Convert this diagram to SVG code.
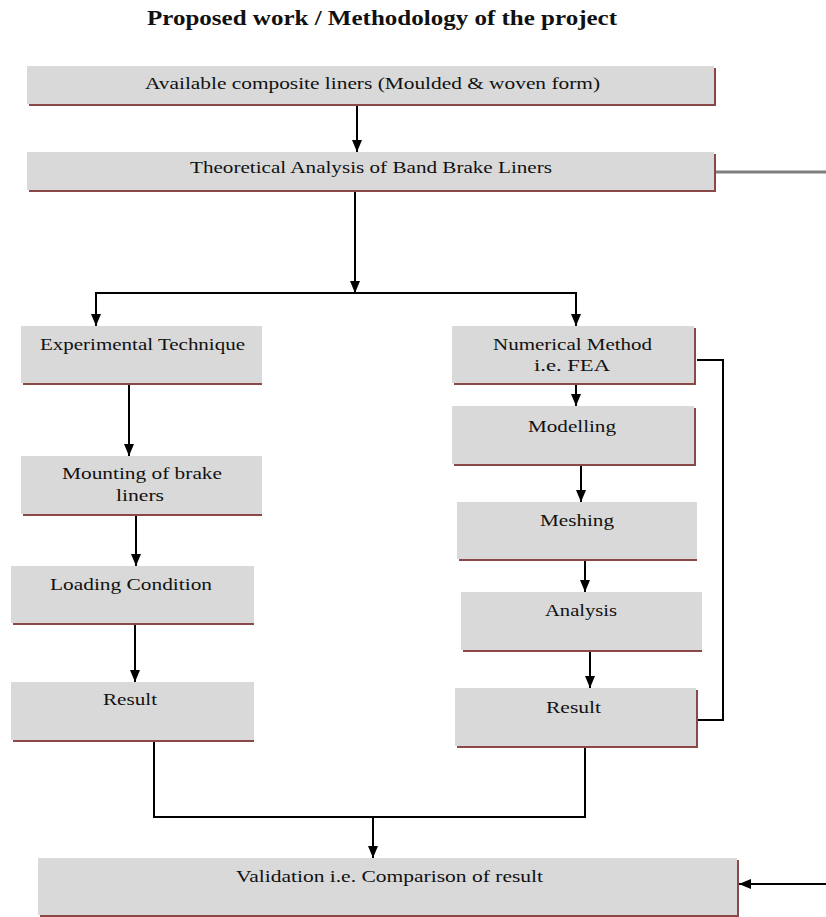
<svg xmlns="http://www.w3.org/2000/svg" width="826" height="917" viewBox="0 0 826 917">
<defs>
<marker id="ah" markerUnits="userSpaceOnUse" markerWidth="12" markerHeight="10" viewBox="0 0 12 10" refX="12" refY="5" orient="auto">
<path d="M0,0 L12,5 L0,10 Z" fill="#000"/>
</marker>
<style>
.box{fill:#d9d9d9}
.sh{fill:#8a4848}
.t{font-family:"Liberation Serif","Times New Roman",serif;font-size:16px;fill:#111;text-anchor:start}
.title{font-family:"Liberation Serif","Times New Roman",serif;font-size:21px;font-weight:bold;fill:#111}
.c{fill:none;stroke:#000;stroke-width:2}
.g{fill:none;stroke:#7f7f7f;stroke-width:3}
</style>
</defs>
<rect width="826" height="917" fill="#fff"/>
<text class="title" x="147" y="25" textLength="470" lengthAdjust="spacingAndGlyphs">Proposed work / Methodology of the project</text>

<g id="connectors">
<line class="c" x1="357" y1="105" x2="357" y2="152" marker-end="url(#ah)"/>
<line class="c" x1="355" y1="191" x2="355" y2="293" marker-end="url(#ah)"/>
<polyline class="c" points="96,310 96,293 576,293 576,310"/>
<line class="c" x1="96" y1="300" x2="96" y2="326" marker-end="url(#ah)"/>
<line class="c" x1="576" y1="300" x2="576" y2="326" marker-end="url(#ah)"/>
<line class="c" x1="129" y1="384" x2="129" y2="456" marker-end="url(#ah)"/>
<line class="c" x1="136" y1="515" x2="136" y2="566" marker-end="url(#ah)"/>
<line class="c" x1="135" y1="624" x2="135" y2="682" marker-end="url(#ah)"/>
<line class="c" x1="576" y1="384" x2="576" y2="406" marker-end="url(#ah)"/>
<line class="c" x1="581" y1="465" x2="581" y2="502" marker-end="url(#ah)"/>
<line class="c" x1="585" y1="560" x2="585" y2="592" marker-end="url(#ah)"/>
<line class="c" x1="590" y1="651" x2="590" y2="688" marker-end="url(#ah)"/>
<polyline class="c" points="697,360 723,360 723,720 697,720"/>
<polyline class="c" points="154,741 154,817 585,817 585,747"/>
<line class="c" x1="373" y1="817" x2="373" y2="858" marker-end="url(#ah)"/>
<line class="c" x1="826" y1="884" x2="739" y2="884" marker-end="url(#ah)"/>
<line class="g" x1="716" y1="172" x2="826" y2="172"/>
</g>

<g id="n-available">
<rect class="sh" x="29" y="68" width="687" height="38"/>
<rect class="box" x="27" y="66" width="687" height="38"/>
<text class="t" x="145" y="89" textLength="455" lengthAdjust="spacingAndGlyphs">Available composite liners (Moulded &amp; woven form)</text>
</g>

<g id="n-theoretical">
<rect class="sh" x="29" y="154" width="687" height="38"/>
<rect class="box" x="27" y="152" width="687" height="38"/>
<text class="t" x="190" y="173" textLength="362" lengthAdjust="spacingAndGlyphs">Theoretical  Analysis of Band Brake Liners</text>
</g>

<g id="n-experimental">
<rect class="sh" x="23" y="328" width="239" height="57"/>
<rect class="box" x="21" y="326" width="241" height="57"/>
<text class="t" x="40" y="350" textLength="205" lengthAdjust="spacingAndGlyphs">Experimental  Technique</text>
</g>

<g id="n-mounting">
<rect class="sh" x="23" y="458" width="239" height="58"/>
<rect class="box" x="21" y="456" width="241" height="58"/>
<text class="t" x="62" y="479" textLength="160" lengthAdjust="spacingAndGlyphs">Mounting of brake</text>
<text class="t" x="116" y="501" textLength="48" lengthAdjust="spacingAndGlyphs">liners</text>
</g>

<g id="n-loading">
<rect class="sh" x="13" y="568" width="241" height="57"/>
<rect class="box" x="11" y="566" width="243" height="57"/>
<text class="t" x="50" y="590" textLength="162" lengthAdjust="spacingAndGlyphs">Loading Condition</text>
</g>

<g id="n-result-left">
<rect class="sh" x="13" y="684" width="241" height="58"/>
<rect class="box" x="11" y="682" width="243" height="58"/>
<text class="t" x="103" y="705" textLength="54" lengthAdjust="spacingAndGlyphs">Result</text>
</g>

<g id="n-numerical">
<rect class="sh" x="454" y="328" width="242" height="57"/>
<rect class="box" x="452" y="326" width="242" height="57"/>
<text class="t" x="493" y="350" textLength="159" lengthAdjust="spacingAndGlyphs">Numerical Method</text>
<text class="t" x="534" y="371" textLength="76" lengthAdjust="spacingAndGlyphs">i.e. FEA</text>
</g>

<g id="n-modelling">
<rect class="sh" x="454" y="408" width="242" height="58"/>
<rect class="box" x="452" y="406" width="242" height="58"/>
<text class="t" x="528" y="432" textLength="88" lengthAdjust="spacingAndGlyphs">Modelling</text>
</g>

<g id="n-meshing">
<rect class="sh" x="459" y="504" width="238" height="57"/>
<rect class="box" x="457" y="502" width="240" height="57"/>
<text class="t" x="540" y="526" textLength="74" lengthAdjust="spacingAndGlyphs">Meshing</text>
</g>

<g id="n-analysis">
<rect class="sh" x="463" y="594" width="239" height="58"/>
<rect class="box" x="461" y="592" width="241" height="58"/>
<text class="t" x="545" y="616" textLength="72" lengthAdjust="spacingAndGlyphs">Analysis</text>
</g>

<g id="n-result-right">
<rect class="sh" x="457" y="690" width="241" height="58"/>
<rect class="box" x="455" y="688" width="241" height="58"/>
<text class="t" x="546" y="713" textLength="55" lengthAdjust="spacingAndGlyphs">Result</text>
</g>

<g id="n-validation">
<rect class="sh" x="40" y="860" width="699" height="58"/>
<rect class="box" x="38" y="858" width="699" height="57"/>
<text class="t" x="236" y="882" textLength="307" lengthAdjust="spacingAndGlyphs">Validation i.e. Comparison of result</text>
</g>
</svg>
